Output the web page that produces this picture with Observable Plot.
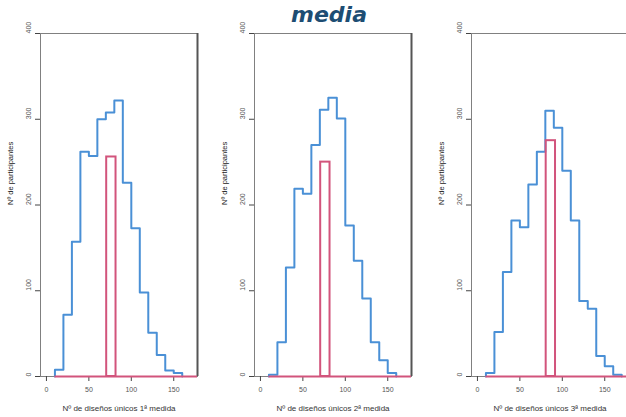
<!DOCTYPE html>
<html>
<head>
<meta charset="utf-8">
<script src="https://cdn.jsdelivr.net/npm/d3@7"></script>
<script src="https://cdn.jsdelivr.net/npm/@observablehq/plot@0.6"></script>
<style>
  html, body { margin: 0; padding: 0; background: #fff; }
  #wrap { position: relative; width: 626px; height: 417px; overflow: hidden; background: #fff; }
  #title { position: absolute; left: 229px; width: 200px; top: 4px; text-align: center;
    font-family: "DejaVu Sans", sans-serif; font-weight: bold; font-style: italic;
    font-size: 22px; line-height: 22px; color: #1d4d73; }
  .panel { position: absolute; top: 0; }
</style>
</head>
<body>
<div id="wrap"><div id="title">media</div></div>
<script>
// ---- data ----
const chartTitle = "media";
const xTitles = ["Nº de diseños únicos 1ª medida", "Nº de diseños únicos 2ª medida", "Nº de diseños únicos 3ª medida"];
const yTitle = "Nº de participantes";
const xTicks = [0, 50, 100, 150];
const yTicks = [0, 100, 200, 300, 400];
const binWidth = 10;
const firstBin = 10;
const counts1 = [8, 72, 157, 262, 257, 300, 308, 322, 226, 173, 98, 51, 25, 7, 4];
const counts2 = [2, 40, 127, 219, 213, 270, 311, 325, 301, 176, 135, 91, 40, 19, 4];
const counts3 = [4, 52, 122, 182, 174, 224, 262, 310, 290, 240, 182, 88, 79, 24, 12, 2];
const meanBinStart = [71, 71, 81];
const meanBinEnd = [82, 82, 92];
const meanCount = [256, 250, 275];

// ---- drawing ----
const blue = "#4a90d6";
const pink = "#d2547c";
const xDomain = [-7, 178];
const allCounts = [counts1, counts2, counts3];
const lefts = [0, 214, 431];

function steps(counts) {
  const pts = [{x: firstBin, y: 0}];
  counts.forEach((c, i) => pts.push({x: firstBin + i * binWidth, y: c}));
  pts.push({x: firstBin + counts.length * binWidth, y: 0});
  return pts;
}

const wrap = document.getElementById("wrap");
allCounts.forEach((counts, k) => {
  const meanRect = [{x1: meanBinStart[k], x2: meanBinEnd[k], y1: 0, y2: meanCount[k]}];
  const chart = Plot.plot({
    width: 213,
    height: 417,
    marginTop: 33,
    marginBottom: 41,
    marginLeft: 40,
    marginRight: 16,
    style: {fontFamily: "'Liberation Sans', Arial, sans-serif", fontSize: "7px", color: "#444", background: "transparent", overflow: "visible"},
    x: {domain: xDomain},
    y: {domain: [0, 400]},
    marks: [
      Plot.frame({stroke: "#808080", strokeWidth: 1}),
      Plot.ruleX([xDomain[1]], {stroke: "#555", strokeWidth: 2}),
      Plot.axisX({ticks: xTicks, tickSize: 5, tickPadding: 6, label: null, stroke: "#444", fill: "#555"}),
      Plot.axisY({ticks: yTicks, tickSize: 5, tickFormat: () => "", label: null, stroke: "#444"}),
      Plot.text(yTicks, {y: d => d, text: d => String(d), frameAnchor: "left", dx: -12, rotate: -90, fill: "#555"}),
      Plot.text([yTitle], {text: d => d, frameAnchor: "left", dx: -30, rotate: -90, fill: "#222", fontSize: 7.5}),
      Plot.text([xTitles[k]], {text: d => d, frameAnchor: "bottom", dy: 34, fill: "#333", fontSize: 8}),
      Plot.line(steps(counts), {x: "x", y: "y", curve: "step-after", stroke: blue, strokeWidth: 2}),
      Plot.ruleY([0], {x1: () => firstBin, x2: () => xDomain[1], stroke: pink, strokeWidth: 2}),
      Plot.rect(meanRect, {x1: "x1", x2: "x2", y1: "y1", y2: "y2", fill: "none", stroke: pink, strokeWidth: 2})
    ]
  });
  chart.classList.add("panel");
  chart.style.left = lefts[k] + "px";
  wrap.appendChild(chart);
});
document.getElementById("title").textContent = chartTitle;
</script>
</body>
</html>
